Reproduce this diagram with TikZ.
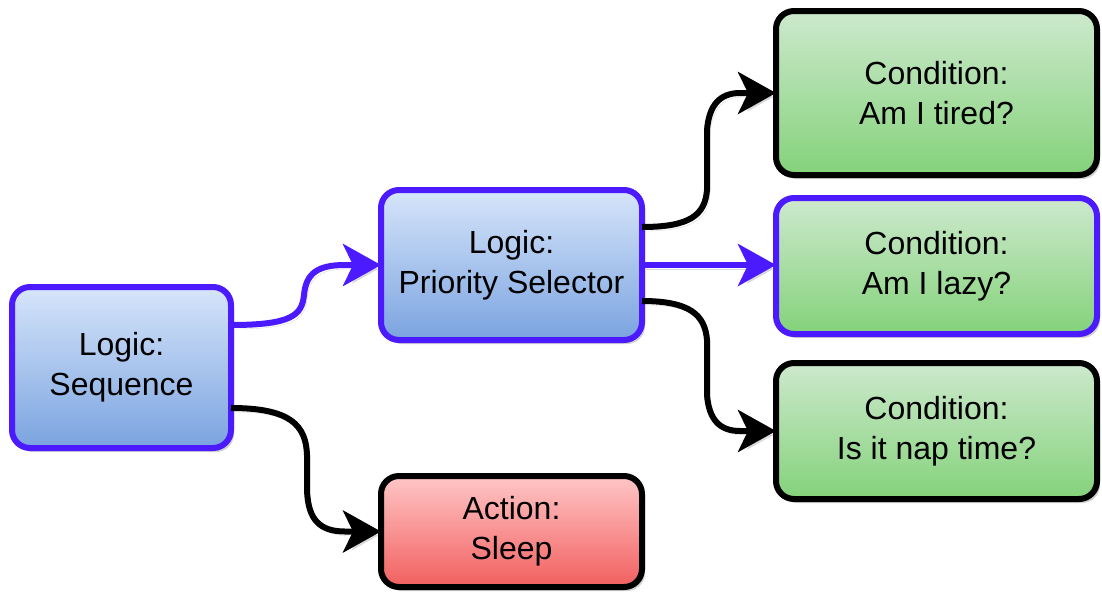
\documentclass[tikz,border=0pt]{standalone}
\usepackage{fontspec}
\setmainfont{Liberation Sans}
\usetikzlibrary{arrows.meta,shadows,calc}
\definecolor{pur}{HTML}{4B1AFF}
\definecolor{bluetop}{HTML}{D6E5FA}
\definecolor{bluebot}{HTML}{7BA3E0}
\definecolor{greentop}{HTML}{CDE9CD}
\definecolor{greenbot}{HTML}{84D27A}
\definecolor{redtop}{HTML}{FFC6C6}
\definecolor{redbot}{HTML}{F25F5F}
\begin{document}
\begin{tikzpicture}[x=1pt,y=1pt,
  box/.style={rounded corners=18pt, line width=6pt, inner sep=0pt, outer sep=0pt,
    align=center, font=\fontsize{32}{40}\selectfont,
    drop shadow={shadow xshift=3pt,shadow yshift=-4pt,fill=black,opacity=0.18}},
  logic/.style={box, draw=pur, top color=bluetop, bottom color=bluebot},
  cond/.style={box, draw=black, top color=greentop, bottom color=greenbot},
  act/.style={box, draw=black, top color=redtop, bottom color=redbot},
  edge/.style={line width=6pt, -{Stealth[length=38pt,width=42pt,inset=10pt]},
    preaction={draw=black!15, transform canvas={shift={(3pt,-4pt)}}}},
]
\useasboundingbox (0,0) rectangle (1102,-595);
\fill[white] (0,0) rectangle (1102,-595);

\node[logic, minimum width=219pt, minimum height=161pt] (seq) at (121.5,-367.5) {Logic:\\Sequence};
\node[logic, minimum width=261pt, minimum height=150pt] (prio) at (511.5,-265) {Logic:\\Priority Selector};
\node[act, minimum width=261pt, minimum height=111pt] (sleep) at (511.5,-531.5) {Action:\\Sleep};
\node[cond, minimum width=321pt, minimum height=164pt] (tired) at (936.5,-93) {Condition:\\Am I tired?};
\node[cond, draw=pur, minimum width=321pt, minimum height=136pt] (lazy) at (936.5,-266) {Condition:\\Am I lazy?};
\node[cond, minimum width=321pt, minimum height=136pt] (nap) at (936.5,-431) {Condition:\\Is it nap time?};

\draw[edge, pur] ([yshift=42.5pt]seq.east) .. controls (292,-325) and (302,-315) .. (304,-295)
  .. controls (306,-273) and (318,-265) .. (345,-265) -- (prio.west);
\draw[edge, black] ([yshift=-40.5pt]seq.east) .. controls (290,-408) and (306,-425) .. (307,-455)
  -- (307,-490) .. controls (308,-520) and (320,-531.5) .. (345,-531.5) -- (sleep.west);
\draw[edge, black] ([yshift=38pt]prio.east) .. controls (690,-227) and (705,-215) .. (707,-190)
  -- (707,-130) .. controls (709,-105) and (720,-93) .. (740,-93) -- (tired.west);
\draw[edge, pur] (prio.east) -- (prio.east -| lazy.west);
\draw[edge, black] ([yshift=-36pt]prio.east) .. controls (690,-301) and (705,-315) .. (707,-340)
  -- (707,-395) .. controls (709,-420) and (720,-431) .. (740,-431) -- (nap.west);
\end{tikzpicture}
\end{document}
